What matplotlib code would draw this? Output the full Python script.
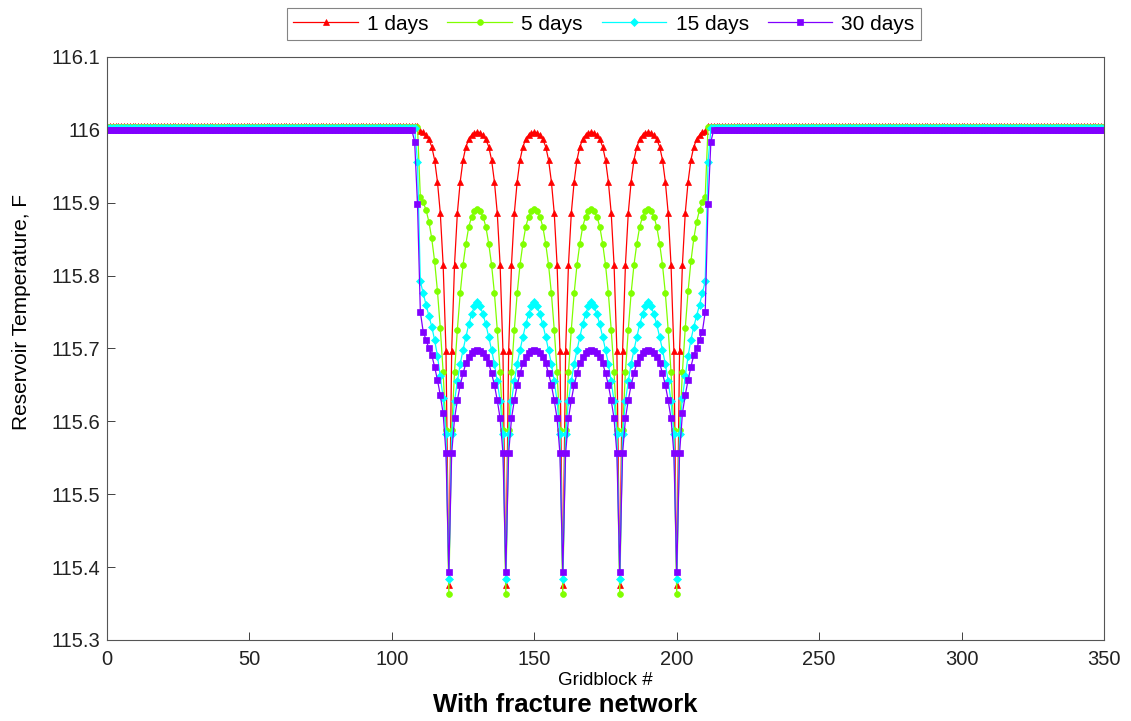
import numpy as np
import matplotlib
matplotlib.use("Agg")
import matplotlib.pyplot as plt

plt.rcParams['font.family'] = ['Liberation Sans', 'DejaVu Sans']

# ---------------- data ----------------
n_blocks = 351                      # gridblocks 0..350
fractures = [120, 140, 160, 180, 200]   # fracture gridblocks (dips)

labels = ["1 days", "5 days", "15 days", "30 days"]
colors = ["#ff0000", "#80ff00", "#00ffff", "#8000ff"]
markers = ["^", "o", "D", "s"]

# far-field temperature of each curve
flat_1d, flat_5d, flat_15d, flat_30d = 116.006, 116.004, 116.002, 116.000
# temperature at the fracture gridblocks
dip_1d, dip_5d, dip_15d, dip_30d = 115.375, 115.363, 115.384, 115.393

# between two fractures: values 1..10 blocks away from a fracture (10 = arch top)
arch_1d = [115.697, 115.815, 115.886, 115.929, 115.959, 115.977, 115.987, 115.993, 115.996, 115.997]
arch_5d = [115.588, 115.668, 115.726, 115.776, 115.815, 115.844, 115.867, 115.881, 115.888, 115.892]
arch_15d = [115.583, 115.628, 115.655, 115.679, 115.698, 115.716, 115.733, 115.747, 115.758, 115.764]
arch_30d = [115.556, 115.604, 115.629, 115.650, 115.666, 115.680, 115.688, 115.694, 115.697, 115.698]

# outside the first/last fracture: values 1..10 blocks away towards the zone edge
edge_1d = [115.697, 115.815, 115.886, 115.929, 115.959, 115.977, 115.987, 115.993, 115.997, 115.999]
edge_5d = [115.588, 115.668, 115.728, 115.779, 115.820, 115.851, 115.874, 115.890, 115.901, 115.908]
edge_15d = [115.583, 115.632, 115.662, 115.690, 115.712, 115.730, 115.745, 115.760, 115.776, 115.792]
edge_30d = [115.556, 115.611, 115.636, 115.657, 115.675, 115.691, 115.700, 115.712, 115.723, 115.750]

# blocks just beyond the zone edge (11, 12 blocks from the outer fracture)
outer_1d = []
outer_5d = []
outer_15d = [115.956]
outer_30d = [115.898, 115.984]

series = [
    (flat_1d, dip_1d, arch_1d, edge_1d, outer_1d),
    (flat_5d, dip_5d, arch_5d, edge_5d, outer_5d),
    (flat_15d, dip_15d, arch_15d, edge_15d, outer_15d),
    (flat_30d, dip_30d, arch_30d, edge_30d, outer_30d),
]


def build_profile(flat, dip, arch, edge, outer):
    t = [flat] * n_blocks
    for d in fractures:
        t[d] = dip
    for d1, d2 in zip(fractures[:-1], fractures[1:]):
        for k, v in enumerate(arch, start=1):
            t[d1 + k] = v
            t[d2 - k] = v
    first, last = fractures[0], fractures[-1]
    for k, v in enumerate(edge, start=1):
        t[first - k] = v
        t[last + k] = v
    for k, v in enumerate(outer, start=len(edge) + 1):
        t[first - k] = v
        t[last + k] = v
    return t


gridblock = list(range(n_blocks))

# ---------------- figure ----------------
W, H = 1131, 721
fig = plt.figure(figsize=(W / 100, H / 100), dpi=100)
ax = fig.add_axes([107 / W, 81 / H, (1104 - 107) / W, (640 - 57) / H])

handles = []
for (flat, dip, arch, edge, outer), lab, c, m in zip(series, labels, colors, markers):
    prof = build_profile(flat, dip, arch, edge, outer)
    h, = ax.plot(gridblock, prof, color=c, lw=0.9, marker=m, markersize=4.2,
                 markeredgewidth=0.5, markeredgecolor=c, markerfacecolor=c, label=lab)
    handles.append(h)

ax.set_xlim(0, 350)
ax.set_ylim(115.3, 116.1)
ax.set_xticks(np.arange(0, 351, 50))
ax.set_yticks([115.3, 115.4, 115.5, 115.6, 115.7, 115.8, 115.9, 116.0, 116.1])
ax.set_yticklabels(["115.3", "115.4", "115.5", "115.6", "115.7", "115.8", "115.9", "116", "116.1"])
ax.tick_params(direction='in', length=6, width=0.6, labelsize=14.5, colors='#222222')
ax.tick_params(axis='y', pad=5)
ax.tick_params(axis='x', pad=7)
for s in ax.spines.values():
    s.set_linewidth(0.8)
    s.set_color('#555555')

ax.set_xlabel("Gridblock #", fontsize=13.5)
ax.xaxis.set_label_coords(0.5, (640 - 672) / 583)
ax.set_ylabel("Reservoir Temperature, F", fontsize=15)
ax.yaxis.set_label_coords((31 - 107) / 997, (640 - 312) / 583)

fig.text(565 / W, 1 - 705 / H, "With fracture network", ha='center', va='center',
         fontsize=18.5, fontweight='bold')

leg = fig.legend(handles=handles, loc='center', bbox_to_anchor=(604 / W, 1 - 24 / H),
                 ncol=4, fontsize=15, frameon=True, fancybox=False, handlelength=3.1,
                 columnspacing=0.9, handletextpad=0.45, borderpad=0.3, numpoints=1,
                 borderaxespad=0)
leg.get_frame().set_edgecolor('#666666')
leg.get_frame().set_linewidth(0.8)

fig.savefig("out.png", dpi=100)
